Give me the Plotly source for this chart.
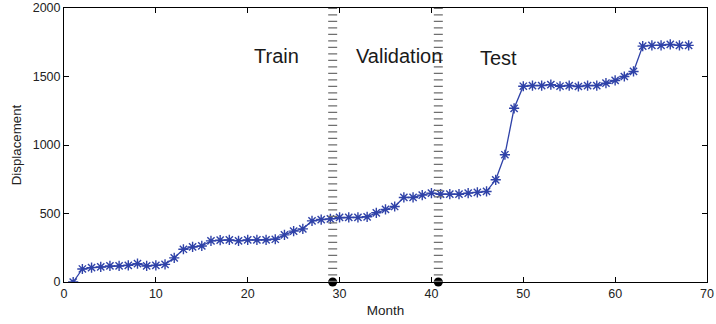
import plotly.graph_objects as go

# Monthly cumulative displacement record
months = list(range(1, 69))
displacement = [
    0, 95, 105, 110, 117, 117, 122, 134, 117, 122,
    129, 176, 239, 256, 263, 300, 305, 307, 300, 307,
    307, 307, 312, 344, 371, 388, 446, 456, 461, 471,
    471, 471, 476, 505, 530, 551, 617, 617, 634, 649,
    641, 641, 641, 649, 654, 661, 746, 929, 1268, 1429,
    1434, 1434, 1441, 1429, 1434, 1427, 1434, 1434, 1451, 1471,
    1500, 1537, 1722, 1727, 1727, 1734, 1727, 1727,
]

# Boundaries between the data splits
split_months = [29.25, 40.75]
split_labels = ["Train", "Validation", "Test"]
split_label_x = [23.1, 36.5, 47.35]
split_label_y = [1650, 1650, 1635]

line_blue = "#2f42a8"
font_family = "Liberation Sans, Arial, sans-serif"

fig = go.Figure()

# Split boundaries: a wide dashed vertical stroke renders as stacked short grey bars
for xm in split_months:
    fig.add_shape(type="line", x0=xm, x1=xm, y0=0, y1=2000, xref="x", yref="y",
                  line=dict(color="#6f6f6f", width=9, dash="1.2px,5.3px"), layer="above")

fig.add_trace(go.Scatter(
    x=months, y=displacement, mode="lines+markers",
    line=dict(color=line_blue, width=1.3),
    marker=dict(symbol="asterisk-open", size=8.5, line=dict(color=line_blue, width=1.4)),
    showlegend=False,
))

fig.add_trace(go.Scatter(
    x=split_months, y=[0, 0], mode="markers",
    marker=dict(color="black", size=9), cliponaxis=False, showlegend=False,
))

for lbl, lx, ly in zip(split_labels, split_label_x, split_label_y):
    fig.add_annotation(x=lx, y=ly, text=lbl, showarrow=False,
                       font=dict(family=font_family, size=20, color="#1a1a1a"))

axis_common = dict(
    showgrid=False, zeroline=False, showline=True, linecolor="black", linewidth=1,
    mirror="allticks", ticks="inside", ticklen=5, tickcolor="black",
    tickfont=dict(family=font_family, size=12.5, color="#222"), automargin=False,
)

fig.update_xaxes(range=[0, 70], dtick=10, tick0=0,
                 title=dict(text="Month", font=dict(family=font_family, size=13.5, color="#222"), standoff=5),
                 **axis_common)
fig.update_yaxes(range=[0, 2000], dtick=500, tick0=0,
                 title=dict(text="Displacement", font=dict(family=font_family, size=13.3, color="#222"), standoff=8),
                 **axis_common)

fig.update_layout(
    width=716, height=324,
    margin=dict(l=64, r=9, t=8, b=42),
    paper_bgcolor="white", plot_bgcolor="white",
)

fig.write_html("out.html")
